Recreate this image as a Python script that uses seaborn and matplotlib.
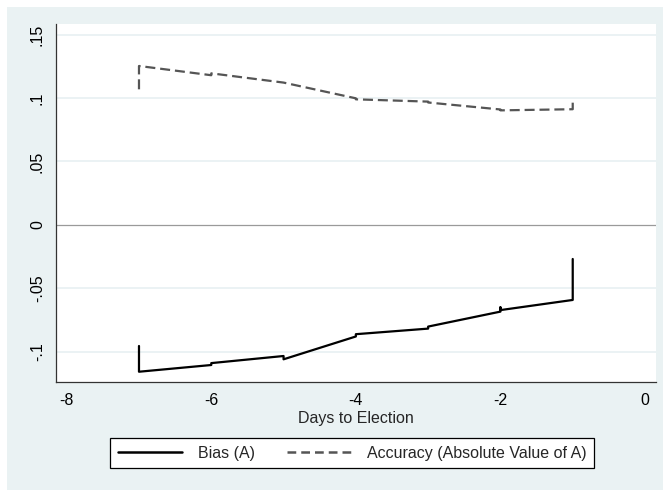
import matplotlib
matplotlib.use("Agg")
import matplotlib.pyplot as plt
import seaborn as sns
import pandas as pd
from matplotlib.lines import Line2D
from matplotlib.patches import Rectangle

# ---- data ----
bias_days = [-7, -7, -6, -6, -5, -5, -4, -4, -3, -3, -2, -2, -2, -1, -1]
bias_vals = [-0.0955, -0.1158, -0.1105, -0.1090, -0.1034, -0.1060, -0.0880, -0.0862,
             -0.0818, -0.0802, -0.0684, -0.0650, -0.0672, -0.0592, -0.0269]
acc_days = [-7, -7, -6, -6, -5, -4, -4, -3, -3, -2, -2, -1, -1]
acc_vals = [0.1069, 0.1253, 0.1180, 0.1195, 0.1122, 0.0998, 0.0990, 0.0972, 0.0965,
            0.0910, 0.0903, 0.0912, 0.0975]
series_labels = ["Bias (A)", "Accuracy (Absolute Value of A)"]
x_ticks = [-8, -6, -4, -2, 0]
y_ticks = [-0.1, -0.05, 0, 0.05, 0.1, 0.15]
y_tick_labels = ["-.1", "-.05", "0", ".05", ".1", ".15"]
x_title = "Days to Election"

bias_df = pd.DataFrame({"days": bias_days, "value": bias_vals})
acc_df = pd.DataFrame({"days": acc_days, "value": acc_vals})

sns.set_style("white")
plt.rcParams["font.family"] = ["Liberation Sans", "DejaVu Sans"]

W, H = 663, 490
fig = plt.figure(figsize=(W / 100, H / 100), dpi=100)
fig.patch.set_facecolor("white")
bg = "#EAF2F3"
fig.patches.append(Rectangle((7 / W, 0), 1 - 7 / W, 1 - 7 / H, transform=fig.transFigure,
                             facecolor=bg, edgecolor="none", zorder=-10))

ax = fig.add_axes([56 / W, 1 - 382 / H, 600 / W, 358 / H])
ax.set_facecolor("white")

for yv in y_ticks:
    if yv == 0:
        ax.axhline(yv, color="#9a9a9a", lw=0.9, zorder=1)
    else:
        ax.axhline(yv, color="#E8F0F2", lw=1.2, zorder=1)

sns.lineplot(data=bias_df, x="days", y="value", sort=False, estimator=None,
             color="black", lw=1.6, ax=ax, zorder=3)
sns.lineplot(data=acc_df, x="days", y="value", sort=False, estimator=None,
             color="#555555", lw=1.6, ax=ax, zorder=3)
ax.lines[-1].set_dashes([4.5, 2.2])

ax.set_xlim(-8.148, 0.152)
ax.set_ylim(-0.1239, 0.1584)
ax.set_xticks(x_ticks)
ax.set_xticklabels([str(t) for t in x_ticks])
ax.set_yticks(y_ticks)
ax.set_yticklabels(y_tick_labels, rotation=90, va="center")
ax.tick_params(axis="both", direction="out", length=5, width=0.9, color="#444444",
               labelsize=11.5, labelcolor="black", pad=3)
ax.set_xlabel(x_title, fontsize=11.5, labelpad=2)
ax.set_ylabel("")

for s in ["top", "right"]:
    ax.spines[s].set_visible(False)
for s in ["left", "bottom"]:
    ax.spines[s].set_color("#333333")
    ax.spines[s].set_linewidth(0.9)

handles = [Line2D([], [], color="black", lw=1.8),
           Line2D([], [], color="#555555", lw=1.8, dashes=[3.5, 2.0])]
leg = fig.legend(handles, series_labels, loc="center", ncol=2,
                 bbox_to_anchor=(352 / W, 1 - 453 / H), fontsize=11.5,
                 frameon=True, fancybox=False, handlelength=4.0, handletextpad=1.0,
                 columnspacing=2.0, borderpad=0.5)
leg.get_frame().set_edgecolor("black")
leg.get_frame().set_linewidth(0.9)
leg.get_frame().set_facecolor("white")
leg.get_frame().set_alpha(1)

fig.savefig("out.png", dpi=100)
